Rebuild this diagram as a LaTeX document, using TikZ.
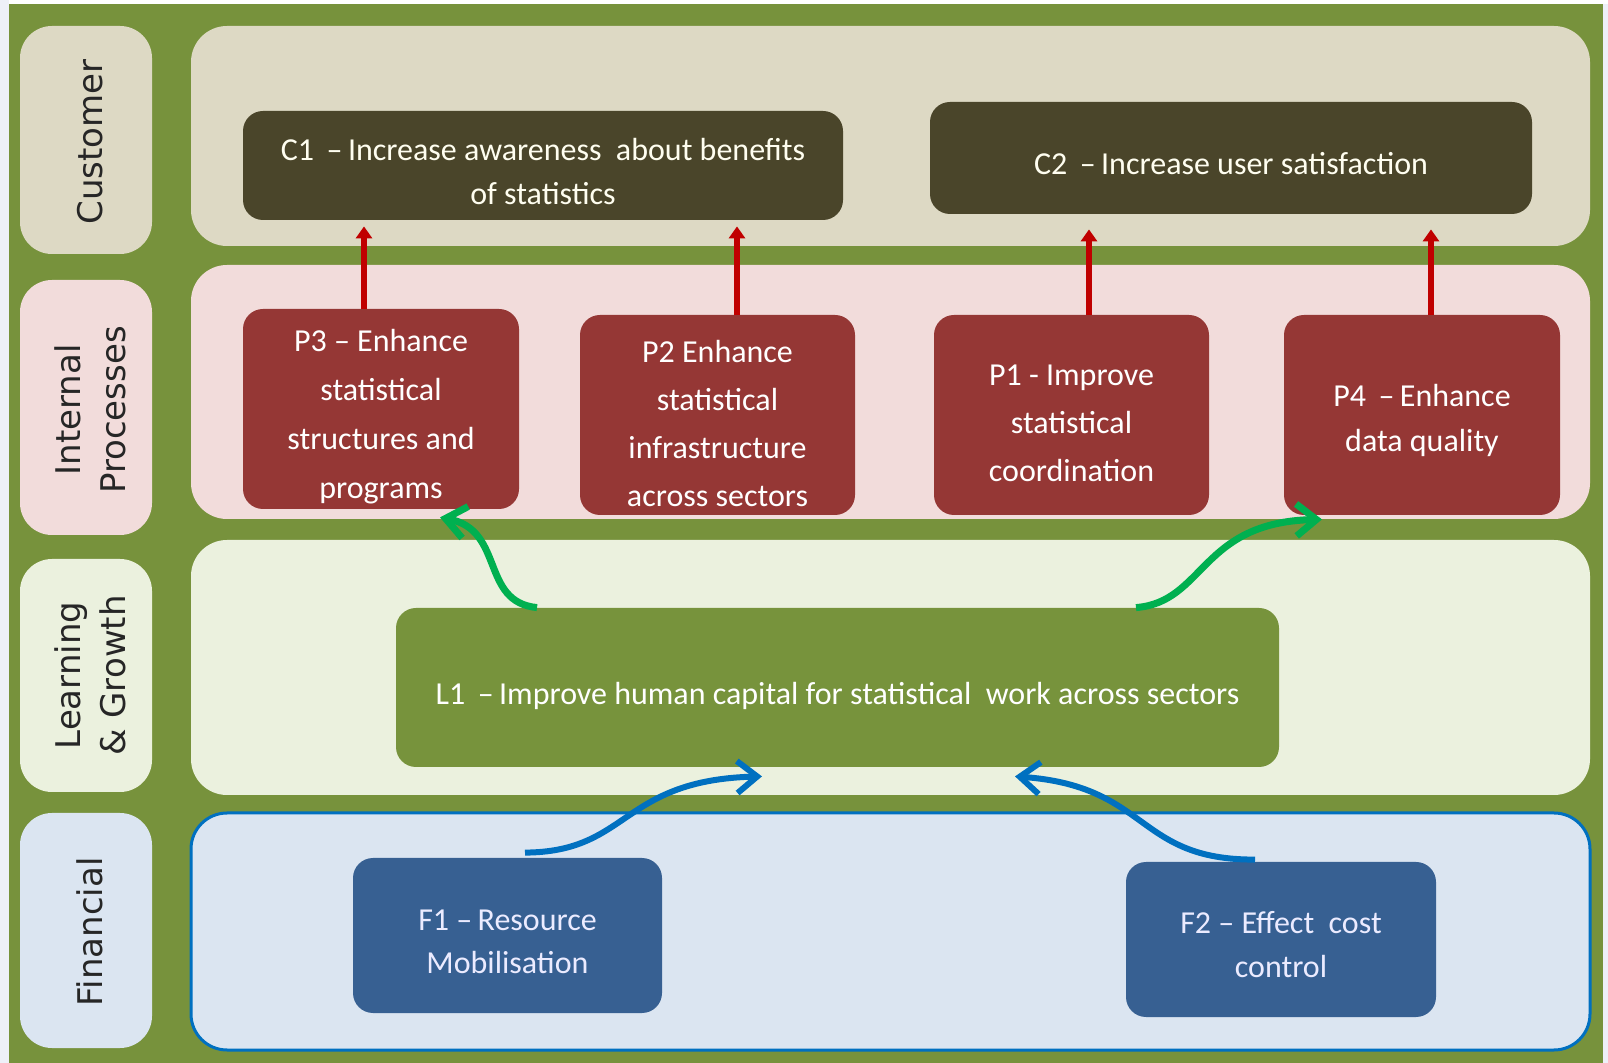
\documentclass[tikz,border=0pt]{standalone}
\usepackage{fontspec}
\setmainfont{Carlito}
\newfontfamily\labelfont{DejaVu Sans}
\usetikzlibrary{arrows.meta,calc}
\newcommand\mystrut[1]{\rule{0pt}{#1}}
\definecolor{frame}{HTML}{77923C}
\definecolor{bgout}{HTML}{EEF0F8}
\definecolor{custbg}{HTML}{DDD9C4}
\definecolor{intbg}{HTML}{F2DCDB}
\definecolor{learnbg}{HTML}{EBF1DE}
\definecolor{finbg}{HTML}{DBE5F1}
\definecolor{finline}{HTML}{0070C0}
\definecolor{cfill}{HTML}{4A452A}
\definecolor{pfill}{HTML}{953735}
\definecolor{lfill}{HTML}{77933C}
\definecolor{ffill}{HTML}{376092}
\definecolor{redarr}{HTML}{C00000}
\definecolor{greenarr}{HTML}{00B050}
\definecolor{bluearr}{HTML}{0070C0}
\tikzset{
  objbox/.style={rounded corners=10pt, text=white, align=center, inner sep=0pt,
    font=\fontsize{16}{22}\selectfont},
  cbox/.style={objbox, fill=cfill, text=white!94!yellow},
  pbox/.style={objbox, fill=pfill, font=\fontsize{16}{24.5}\selectfont},
  lbox/.style={objbox, fill=lfill},
  fbox/.style={objbox, fill=ffill, text=white!92!blue},
  sidelabel/.style={inner sep=0pt, align=center, rotate=90,
    font=\labelfont\fontsize{17}{22.5}\selectfont, text=black!85},
  redarrow/.style={draw=redarr, line width=3pt, -{Triangle[length=6pt,width=8pt]}},
  greenarrow/.style={draw=greenarr, line width=3.5pt, -{Straight Barb[length=10pt,width=16pt]}},
  bluearrow/.style={draw=bluearr, line width=3pt, -{Straight Barb[length=10pt,width=16pt]}},
}
\begin{document}
\begin{tikzpicture}[x=0.5pt,y=-0.5pt]
\useasboundingbox (0,0) rectangle (1608,1063);
\fill[bgout] (0,0) rectangle (1608,1063);
\fill[white] (9,0) rectangle (1608,4);
\fill[frame] (9,4) rectangle (1603,1063);
% side labels
\fill[custbg, rounded corners=16pt] (20,26) rectangle (152,254);
\fill[intbg, rounded corners=16pt] (20,280) rectangle (152,535);
\fill[learnbg, rounded corners=16pt] (20,559) rectangle (152,792);
\fill[finbg, rounded corners=16pt] (20,813) rectangle (152,1048);
\node[sidelabel] (labc) at (90,142) {Customer};
\node[sidelabel] (labi) at (90,410) {Internal\\Processes};
\node[sidelabel] (labl) at (90,675.5) {Learning\\\& Growth};
\node[sidelabel] (labf) at (90,932) {Financial};
% panels
\fill[custbg, rounded corners=18pt] (191,26) rectangle (1590,246);
\fill[intbg, rounded corners=18pt] (191,265) rectangle (1590,519);
\fill[learnbg, rounded corners=18pt] (191,540) rectangle (1590,795);
\filldraw[fill=finbg, draw=finline, line width=1.5pt, rounded corners=18pt] (191,813) rectangle (1590,1050);
% objective nodes
\node[cbox, minimum width=300pt, minimum height=54.5pt] (c1) at (543,165.5)
  {\mystrut{17pt}C1 \,--\,Increase awareness \ about benefits\\of statistics};
\node[cbox, minimum width=301pt, minimum height=56pt] (c2) at (1231,158)
  {\mystrut{17pt}C2 \,--\,Increase user satisfaction};
\node[pbox, minimum width=138pt, minimum height=100pt] (p3) at (381,409)
  {\mystrut{19pt}P3 -- Enhance\\statistical\\structures and\\programs};
\node[pbox, minimum width=137.5pt, minimum height=100pt, font=\fontsize{16}{24}\selectfont] (p2) at (717.5,415)
  {\mystrut{20pt}P2 Enhance\\statistical\\infrastructure\\across sectors};
\node[pbox, minimum width=137.5pt, minimum height=100pt, font=\fontsize{16}{24}\selectfont] (p1) at (1071.5,415)
  {\mystrut{19pt}P1 - Improve\\statistical\\coordination};
\node[pbox, minimum width=138pt, minimum height=100pt, font=\fontsize{16}{22.5}\selectfont] (p4) at (1422,415)
  {\mystrut{16.5pt}P4 \,--\,Enhance\\data quality};
\node[lbox, minimum width=441.5pt, minimum height=79.5pt] (l1) at (837.5,687.5)
  {\mystrut{20pt}L1 \,--\,Improve human capital for statistical \ work across sectors};
\node[fbox, minimum width=154.5pt, minimum height=77.5pt, font=\fontsize{16}{21.5}\selectfont] (f1) at (507.5,935.5)
  {\mystrut{17pt}F1 --\,Resource\\Mobilisation};
\node[fbox, minimum width=155pt, minimum height=77.5pt] (f2) at (1281,939.5)
  {\mystrut{16pt}F2 -- Effect \ cost\\control};
% red arrows
\draw[redarrow] (p3.north -| 364,0) -- ($(c1.south -| 364,0)+(0,6)$);
\draw[redarrow] (p2.north -| 737,0) -- ($(c1.south -| 737,0)+(0,6)$);
\draw[redarrow] (p1.north -| 1089,0) -- ($(c2.south -| 1089,0)+(0,15)$);
\draw[redarrow] (p4.north -| 1431,0) -- ($(c2.south -| 1431,0)+(0,15)$);
% green arrows
\draw[greenarrow] (l1.north -| 537,0) .. controls (480,602) and (505,530) .. ($(p3.south -| 440,0)+(0,8)$);
\draw[greenarrow] (l1.north -| 1136,0) .. controls (1205,602) and (1200,522) .. ($(p4.south -| 1322,0)+(0,4)$);
% blue arrows
\draw[bluearrow] ($(f1.north -| 525,0)+(0,-5)$) .. controls (630,852) and (620,780) .. ($(l1.south -| 762,0)+(0,9)$);
\draw[bluearrow] ($(f2.north -| 1255,0)+(0,-2)$) .. controls (1135,860) and (1150,786) .. ($(l1.south -| 1015,0)+(0,9)$);
\end{tikzpicture}
\end{document}
